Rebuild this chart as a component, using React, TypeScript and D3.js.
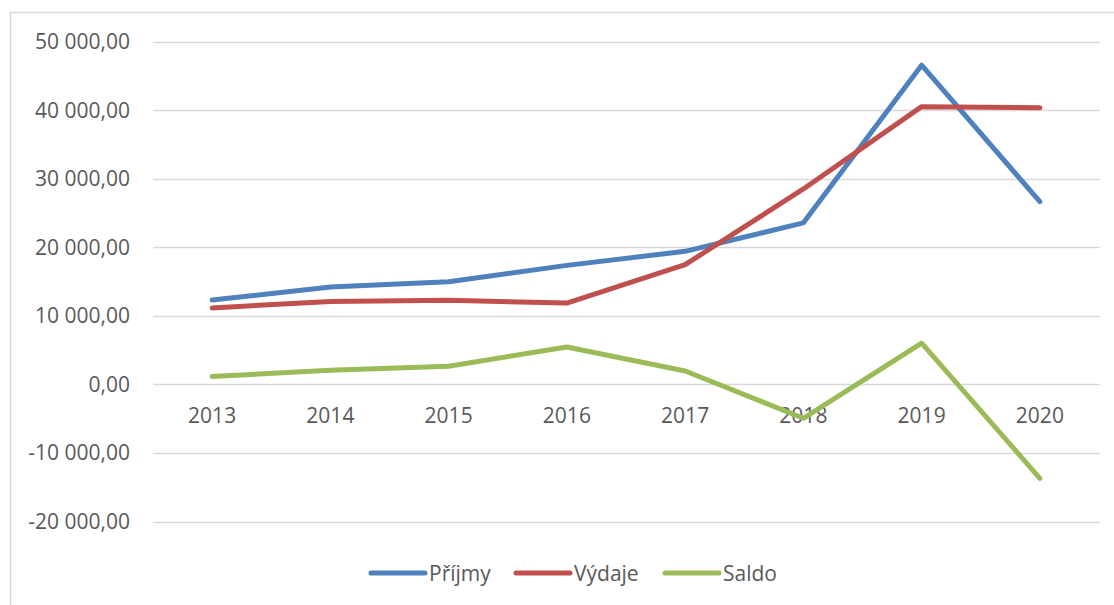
import React, { useEffect, useRef } from 'react';
import * as d3 from 'd3';

// values
const years = ['2013', '2014', '2015', '2016', '2017', '2018', '2019', '2020'];
const prijmy = [12300, 14200, 14950, 17350, 19400, 23550, 46550, 26650];
const vydaje = [11150, 12100, 12250, 11850, 17450, 28500, 40500, 40350];
const saldo = [1150, 2050, 2650, 5450, 1950, -4950, 6000, -13700];
const seriesNames = ['Příjmy', 'Výdaje', 'Saldo'];
const seriesColors = ['#4f81bd', '#c0504d', '#9bbb59'];
const yTicks = [-20000, -10000, 0, 10000, 20000, 30000, 40000, 50000];

const W = 1114;
const H = 605;
const FONT = '"Open Sans", sans-serif';
const FS = 21;

const App = () => {
  const ref = useRef<SVGSVGElement>(null);

  useEffect(() => {
    const svg = d3.select(ref.current);
    svg.selectAll('*').remove();

    // chart frame (only left/top visible in the reference)
    svg.append('rect')
      .attr('x', 10.5).attr('y', 12.5)
      .attr('width', W + 20).attr('height', H + 20)
      .attr('fill', '#fff')
      .attr('stroke', '#d9d9d9')
      .attr('stroke-width', 1.5);

    const x = d3.scalePoint<string>()
      .domain(years)
      .range([153, 1099])
      .padding(0.5);
    const y = d3.scaleLinear()
      .domain([-20000, 50000])
      .range([521.5, 41.5]);

    const loc = d3.formatLocale({
      decimal: ',', thousands: ' ', grouping: [3], currency: ['', ''], minus: '-'
    });
    const fmt = loc.format(',.2f');

    // gridlines
    svg.append('g').selectAll('line')
      .data(yTicks)
      .join('line')
      .attr('x1', 153).attr('x2', 1100)
      .attr('y1', d => Math.round(y(d)) + 0.5)
      .attr('y2', d => Math.round(y(d)) + 0.5)
      .attr('stroke', '#d9d9d9')
      .attr('stroke-width', 1.5);

    // y labels
    svg.append('g').selectAll('text')
      .data(yTicks)
      .join('text')
      .attr('x', 130)
      .attr('y', d => y(d) + 7.5)
      .attr('text-anchor', 'end')
      .attr('font-family', FONT)
      .attr('font-size', FS)
      .attr('fill', '#595959')
      .text(d => fmt(d));

    // category labels (below the zero line)
    svg.append('g').selectAll('text')
      .data(years)
      .join('text')
      .attr('x', d => x(d)!)
      .attr('y', y(0) + 39)
      .attr('text-anchor', 'middle')
      .attr('font-family', FONT)
      .attr('font-size', FS)
      .attr('fill', '#595959')
      .text(d => d);

    const all = [prijmy, vydaje, saldo];
    const line = d3.line<number>()
      .x((_, i) => x(years[i])!)
      .y(d => y(d));

    all.forEach((vals, k) => {
      svg.append('path')
        .datum(vals)
        .attr('fill', 'none')
        .attr('stroke', seriesColors[k])
        .attr('stroke-width', 5)
        .attr('stroke-linecap', 'round')
        .attr('stroke-linejoin', 'round')
        .attr('d', line);
    });

    // legend
    const legendX = [371, 516, 665];
    const leg = svg.append('g');
    seriesNames.forEach((name, k) => {
      leg.append('line')
        .attr('x1', legendX[k]).attr('x2', legendX[k] + 54)
        .attr('y1', 573).attr('y2', 573)
        .attr('stroke', seriesColors[k])
        .attr('stroke-width', 5)
        .attr('stroke-linecap', 'round');
      leg.append('text')
        .attr('x', legendX[k] + 58)
        .attr('y', 580.5)
        .attr('font-family', FONT)
        .attr('font-size', FS)
        .attr('fill', '#595959')
        .text(name);
    });
  }, []);

  return (
    <svg ref={ref} width={W} height={H}
      style={{ position: 'absolute', left: 0, top: 0, display: 'block' }} />
  );
};

export default App;
